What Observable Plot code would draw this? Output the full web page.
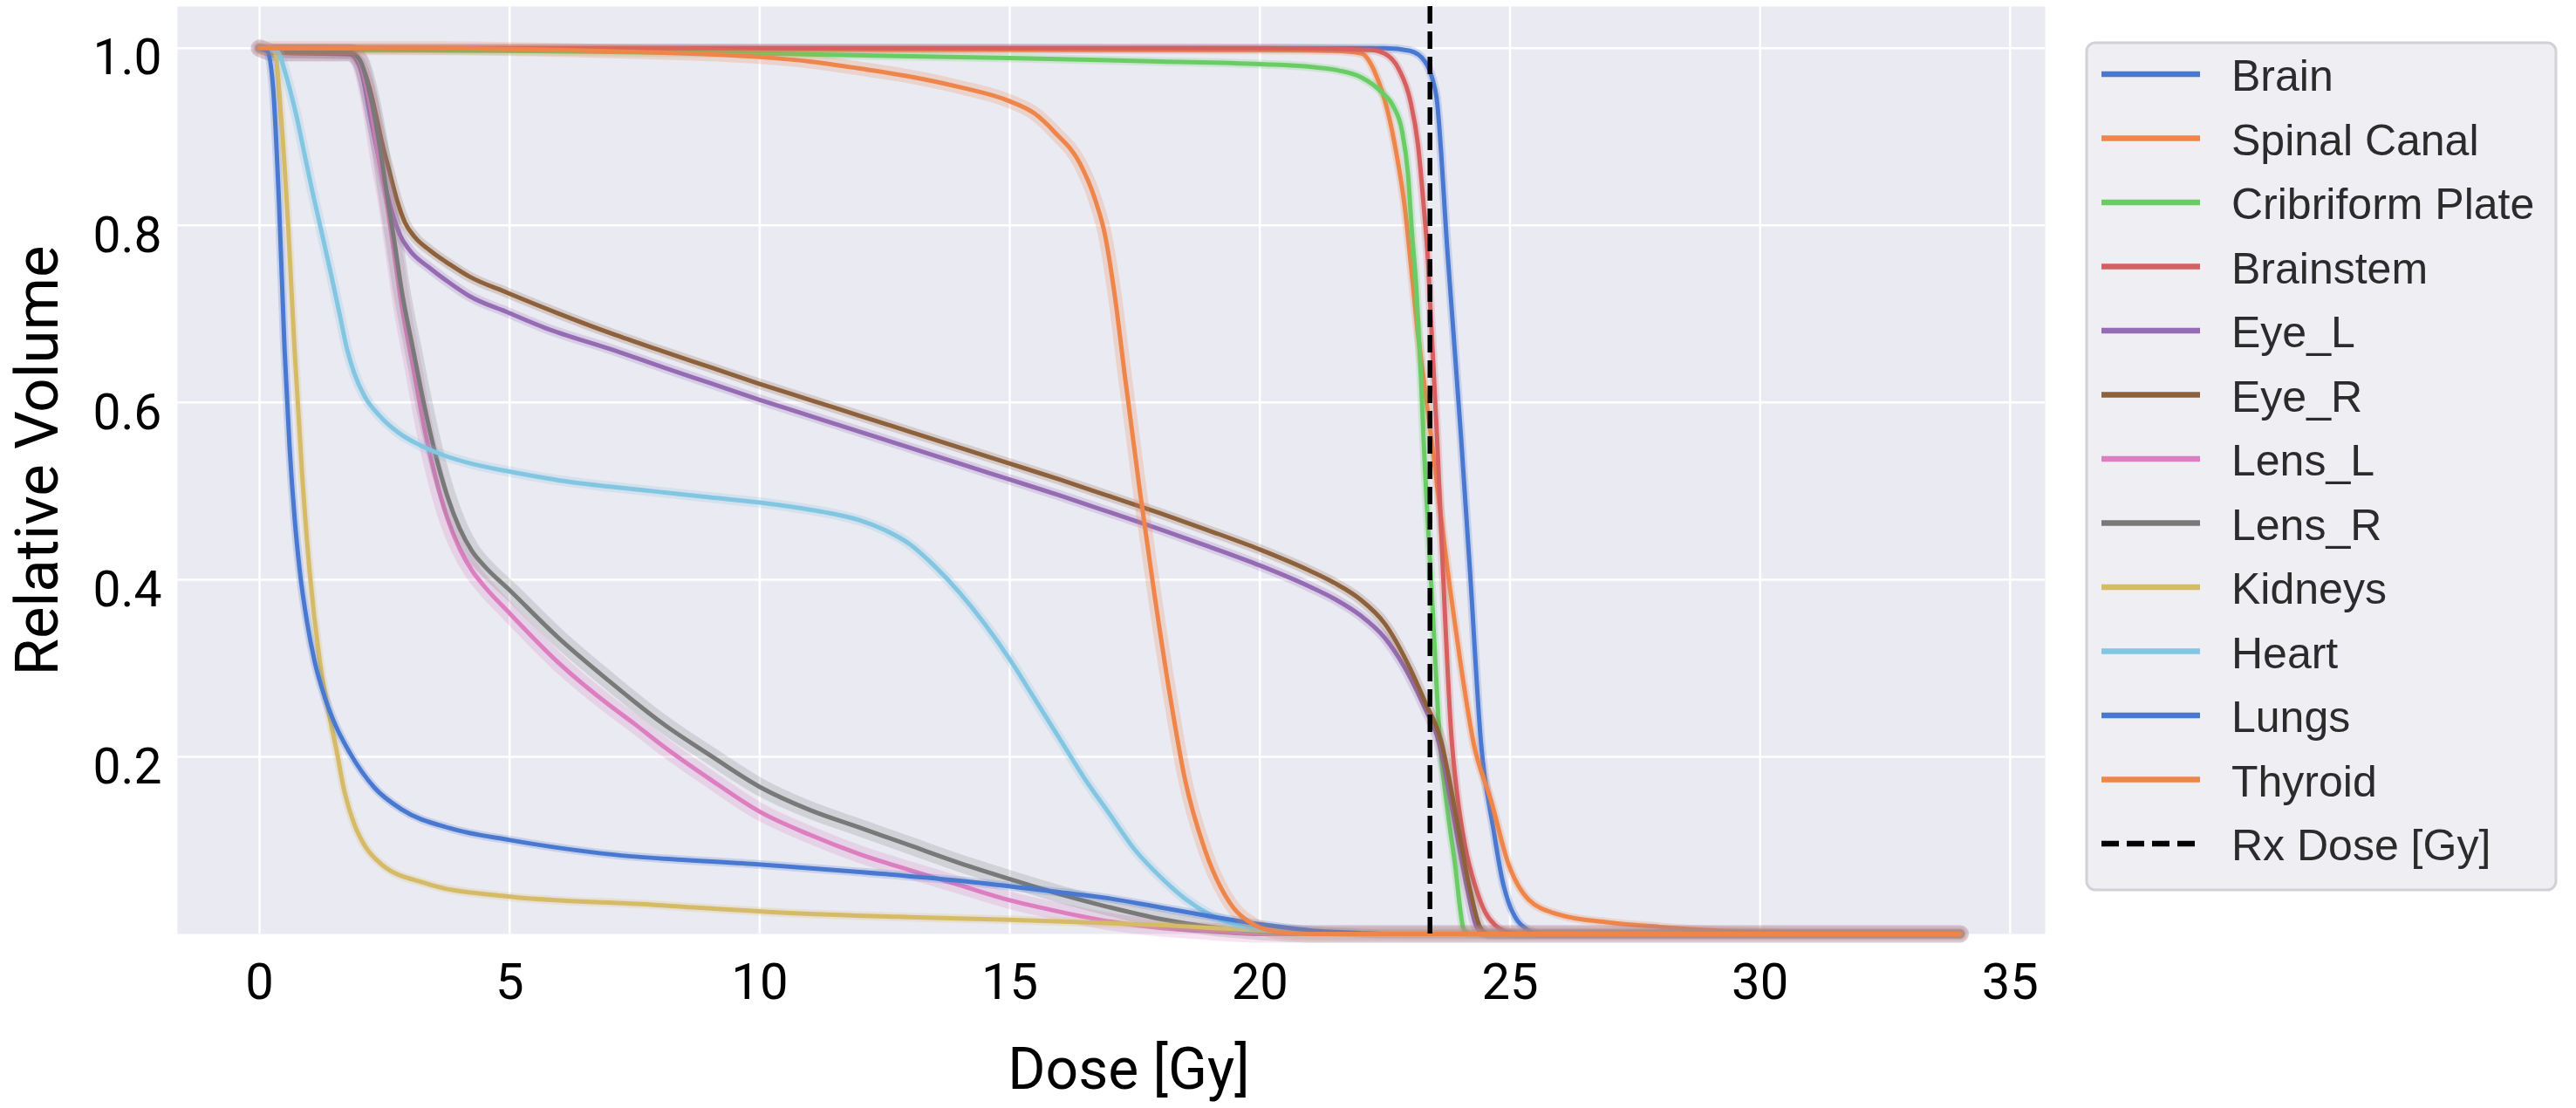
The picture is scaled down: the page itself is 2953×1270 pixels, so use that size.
<!DOCTYPE html>
<html><head><meta charset="utf-8">
<script src="https://cdn.jsdelivr.net/npm/d3@7"></script>
<script src="https://cdn.jsdelivr.net/npm/@observablehq/plot@0.6"></script>
<style>html,body{margin:0;padding:0;background:#fff;} svg{display:block}</style>
</head><body><div id="chart"></div>
<script>
// ---------- data ----------
const organs = ["Brain","Spinal Canal","Cribriform Plate","Brainstem","Eye_L","Eye_R","Lens_L","Lens_R","Kidneys","Heart","Lungs","Thyroid"];
const rxDose = 23.4;
const rxLabel = "Rx Dose [Gy]";
const xTicks = [0,5,10,15,20,25,30,35];
const yTicks = [0.2,0.4,0.6,0.8,1.0];
const xLabel = "Dose [Gy]";
const yLabel = "Relative Volume";

const brain = [[0,1],[22.5,1],[23.0,0.997],[23.3,0.985],[23.45,0.965],[23.53,0.945],[23.75,0.77],[24.02,0.562],[24.2,0.41],[24.42,0.216],[24.67,0.118],[24.85,0.06],[24.97,0.036],[25.15,0.015],[25.32,0.006],[25.6,0],[34,0]];
const spinalCanal = [[0,1],[10,0.999],[20,0.998],[21.5,0.997],[22.03,0.994],[22.32,0.97],[22.55,0.93],[22.72,0.884],[22.9,0.819],[23.04,0.743],[23.16,0.677],[23.27,0.628],[23.42,0.562],[23.6,0.48],[23.8,0.39],[24.0,0.31],[24.27,0.216],[24.62,0.151],[24.97,0.079],[25.37,0.039],[25.97,0.022],[26.96,0.013],[28,0.008],[28.75,0.005],[30,0.002],[31,0],[34,0]];
const cribriformPlate = [[0,1],[0.5,0.999],[5,0.997],[10,0.994],[15,0.989],[18,0.985],[20,0.982],[21,0.979],[21.56,0.975],[22.03,0.967],[22.44,0.95],[22.67,0.934],[22.84,0.907],[22.96,0.858],[23.04,0.792],[23.13,0.727],[23.22,0.628],[23.27,0.562],[23.45,0.37],[23.6,0.216],[23.75,0.14],[23.92,0.07],[24.0,0.03],[24.07,0.006],[24.2,0],[34,0]];
const brainstem = [[0,1],[20,1],[22.2,0.998],[22.49,0.994],[22.78,0.976],[23.01,0.94],[23.16,0.891],[23.27,0.825],[23.36,0.76],[23.42,0.694],[23.51,0.595],[23.54,0.562],[23.62,0.46],[23.7,0.36],[23.82,0.23],[23.95,0.155],[24.1,0.1],[24.3,0.055],[24.5,0.025],[24.7,0.01],[24.9,0.003],[25.2,0],[34,0]];
const eyeL = [[0,1],[0.3,0.995],[1.8,0.993],[2.0,0.98],[2.21,0.924],[2.35,0.885],[2.5,0.848],[2.65,0.815],[2.8,0.79],[3.0,0.772],[3.4,0.752],[3.8,0.735],[4.2,0.72],[4.95,0.702],[5.72,0.684],[7.03,0.66],[8,0.641],[9,0.622],[10,0.603],[11,0.585],[12,0.567],[13,0.549],[14,0.531],[15,0.513],[16,0.495],[17,0.476],[18,0.457],[19,0.437],[20,0.416],[21,0.392],[21.5,0.378],[22,0.36],[22.5,0.334],[23,0.29],[23.3,0.255],[23.58,0.216],[23.75,0.17],[23.92,0.118],[24.15,0.05],[24.35,0.006],[24.55,0],[34,0]];
const eyeR = [[0,1],[0.3,0.995],[1.8,0.994],[2.0,0.985],[2.2,0.955],[2.33,0.924],[2.45,0.893],[2.6,0.86],[2.75,0.828],[2.9,0.804],[3.1,0.787],[3.4,0.772],[3.8,0.756],[4.2,0.742],[4.95,0.724],[6,0.7],[7.03,0.678],[8,0.659],[9,0.64],[10,0.621],[11,0.603],[12,0.585],[13,0.567],[14,0.549],[15,0.531],[16,0.513],[17,0.494],[18,0.475],[19,0.455],[20,0.434],[21,0.41],[21.5,0.396],[22,0.378],[22.5,0.35],[23,0.3],[23.3,0.262],[23.63,0.216],[23.8,0.17],[23.97,0.118],[24.2,0.05],[24.42,0.006],[24.6,0],[34,0]];
const lensL = [[0,1],[0.3,0.995],[1.8,0.995],[2.0,0.985],[2.2,0.94],[2.4,0.87],[2.53,0.83],[2.7,0.765],[2.84,0.71],[3.07,0.64],[3.3,0.57],[3.5,0.52],[3.75,0.47],[4.0,0.435],[4.25,0.41],[4.5,0.392],[5,0.362],[6,0.305],[7,0.258],[7.5,0.237],[8,0.215],[9,0.175],[10,0.138],[11,0.112],[12,0.09],[13,0.072],[14,0.055],[15,0.038],[16,0.025],[17,0.014],[18,0.007],[19,0.003],[20,0],[34,0]];
const lensR = [[0,1],[0.3,0.995],[1.8,0.995],[2.0,0.987],[2.2,0.95],[2.4,0.89],[2.53,0.841],[2.7,0.78],[2.84,0.727],[3.07,0.66],[3.3,0.595],[3.5,0.545],[3.75,0.495],[4.0,0.458],[4.25,0.432],[4.5,0.415],[5,0.388],[6,0.333],[7,0.285],[7.5,0.262],[8,0.24],[9,0.202],[10,0.166],[11,0.14],[12,0.12],[13,0.1],[14,0.08],[15,0.062],[16,0.045],[17,0.03],[18,0.017],[19,0.008],[20,0.003],[21,0],[34,0]];
const kidneys = [[0,1],[0.2,0.998],[0.31,0.995],[0.43,0.923],[0.58,0.791],[0.7,0.66],[0.85,0.52],[1.0,0.41],[1.2,0.31],[1.4,0.245],[1.53,0.21],[1.7,0.16],[1.9,0.123],[2.1,0.1],[2.43,0.079],[3.33,0.057],[4.83,0.043],[7.83,0.033],[10.5,0.024],[13,0.019],[15,0.016],[17,0.012],[18,0.01],[19,0.007],[20,0.004],[21,0.002],[22,0.0005],[23,0],[34,0]];
const heart = [[0,1],[0.3,0.997],[0.38,0.995],[0.5,0.975],[0.6,0.955],[0.74,0.923],[0.9,0.88],[1.05,0.84],[1.25,0.79],[1.44,0.742],[1.6,0.7],[1.75,0.66],[1.9,0.632],[2.1,0.607],[2.4,0.585],[2.8,0.565],[3.2,0.552],[3.7,0.54],[4.3,0.53],[5,0.522],[6,0.512],[7,0.505],[8,0.499],[9,0.493],[10,0.487],[11,0.479],[11.5,0.474],[12,0.467],[12.5,0.456],[13,0.44],[13.5,0.415],[14,0.385],[14.5,0.35],[15,0.31],[15.5,0.265],[16,0.22],[16.5,0.175],[17,0.135],[17.5,0.095],[18,0.065],[18.5,0.04],[19,0.022],[19.5,0.011],[20,0.005],[20.5,0.002],[21,0],[34,0]];
const lungs = [[0,1],[0.15,0.997],[0.27,0.956],[0.39,0.824],[0.5,0.66],[0.6,0.55],[0.7,0.47],[0.8,0.412],[0.95,0.352],[1.1,0.308],[1.3,0.268],[1.5,0.238],[1.8,0.205],[2.3,0.165],[2.83,0.141],[3.83,0.119],[5,0.106],[6.83,0.091],[9.84,0.079],[12,0.07],[14,0.06],[16,0.047],[17,0.04],[18,0.03],[19,0.02],[20,0.011],[21,0.004],[22,0.001],[22.5,0],[34,0]];
const thyroid = [[0,1],[3,1],[6,0.998],[8,0.995],[10,0.99],[11,0.985],[12,0.977],[13,0.968],[14,0.956],[15,0.94],[15.5,0.926],[15.9,0.905],[16.4,0.87],[16.7,0.83],[16.9,0.79],[17.1,0.72],[17.3,0.63],[17.6,0.5],[17.9,0.38],[18.2,0.27],[18.5,0.175],[18.9,0.095],[19.4,0.035],[19.9,0.01],[20.4,0.002],[21,0],[34,0]];

const curves = [brain, spinalCanal, cribriformPlate, brainstem, eyeL, eyeR, lensL, lensR, kidneys, heart, lungs, thyroid];

// ---------- style ----------
const palette = ["#4878D0","#EE854A","#6ACC64","#D65F5F","#956CB4","#8C613C","#DC7EC0","#797979","#D5BB67","#82C6E2","#4878D0","#EE854A"];
const bandW = [10,10,10,10,12,12,20,20,10,12,10,16];

const table = organs.flatMap((o, i) => curves[i].map(([dose, v]) => ({organ: o, dose, v})));

const marks = [
  Plot.frame({fill: "#EAEAF2", stroke: "none"}),
  Plot.gridX(xTicks, {stroke: "#ffffff", strokeOpacity: 1, strokeWidth: 2.5}),
  Plot.gridY(yTicks, {stroke: "#ffffff", strokeOpacity: 1, strokeWidth: 2.5})
];
organs.forEach((o, i) => {
  const rows = table.filter(d => d.organ === o);
  marks.push(Plot.line(rows, {x: "dose", y: "v", stroke: "organ", strokeWidth: bandW[i], strokeOpacity: 0.22, curve: "monotone-x"}));
  marks.push(Plot.line(rows, {x: "dose", y: "v", stroke: "organ", strokeWidth: 5, curve: "monotone-x"}));
});
marks.push(Plot.ruleX([rxDose], {stroke: "#000", strokeWidth: 5.5, strokeDasharray: "20,9"}));
marks.push(Plot.axisX(xTicks, {tickSize: 0, tickPadding: 33, fontSize: 58, label: null, fill: "#000"}));
marks.push(Plot.axisY(yTicks, {tickSize: 0, tickPadding: 18, fontSize: 57, dy: 12, label: null, fill: "#000", tickFormat: d => d.toFixed(1)}));

const svg = Plot.plot({
  width: 2953, height: 1270,
  marginLeft: 203, marginRight: 609, marginTop: 7, marginBottom: 200,
  style: {fontFamily: "Roboto", background: "#fff", color: "#000"},
  x: {domain: [-1.64, 35.70]},
  y: {domain: [0, 1.047]},
  color: {type: "ordinal", domain: organs, range: palette},
  marks
});

const s = d3.select(svg);
s.append("text").attr("x", 1294).attr("y", 1248).attr("text-anchor", "middle")
  .attr("font-family", "Roboto").attr("font-size", 66).attr("fill", "#000").text(xLabel);
s.append("text").attr("transform", "translate(66,528) rotate(-90)").attr("text-anchor", "middle")
  .attr("font-family", "Roboto").attr("font-size", 69).attr("fill", "#000").text(yLabel);

// legend
const lg = s.append("g").attr("text-anchor", "start");
lg.append("rect").attr("x", 2392).attr("y", 49).attr("width", 538).attr("height", 971)
  .attr("rx", 10).attr("fill", "#EEEEF3").attr("stroke", "#D2D2D6").attr("stroke-width", 3);
const entries = organs.map((o, i) => ({label: o, color: palette[i], dash: null}))
  .concat([{label: rxLabel, color: "#000", dash: "20,9"}]);
entries.forEach((e, i) => {
  const y = 85 + i * 73.5;
  lg.append("line").attr("x1", 2409).attr("x2", 2522).attr("y1", y).attr("y2", y)
    .attr("stroke", e.color).attr("stroke-width", 6.5)
    .attr("stroke-dasharray", e.dash);
  lg.append("text").attr("x", 2558).attr("y", y + 19).attr("text-anchor", "start")
    .attr("font-family", "Liberation Sans, Arial, sans-serif")
    .attr("font-size", 50).attr("fill", "#2b2b2b").text(e.label);
});

document.getElementById("chart").appendChild(svg);
</script>
</body></html>
